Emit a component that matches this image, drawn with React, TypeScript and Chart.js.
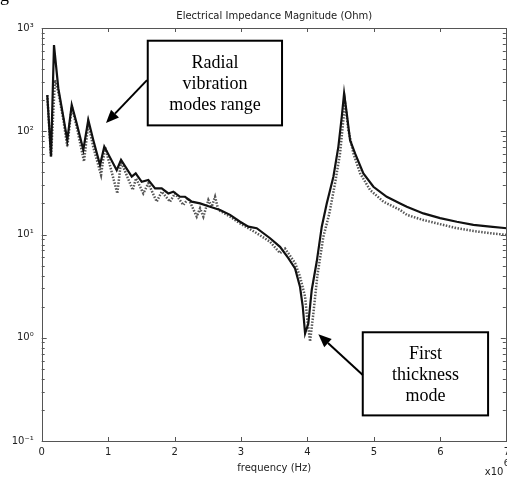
import React, { useEffect, useRef } from "react";
import { Chart, registerables } from "chart.js";

Chart.register(...registerables);

// ---- data (frequency in units of 10^6 Hz, impedance in Ohm) ----
const freqSolid = [0.084, 0.14, 0.185, 0.25, 0.325, 0.385, 0.452, 0.527, 0.626, 0.701, 0.777, 0.878, 0.942, 1.129, 1.194, 1.355, 1.415, 1.505, 1.605, 1.706, 1.806, 1.906, 1.981, 2.082, 2.157, 2.258, 2.383, 2.534, 2.684, 2.835, 2.985, 3.11, 3.236, 3.437, 3.587, 3.712, 3.813, 3.888, 3.929, 3.964, 4.013, 4.064, 4.14, 4.215, 4.29, 4.39, 4.465, 4.516, 4.551, 4.591, 4.641, 4.716, 4.841, 4.992, 5.193, 5.394, 5.495, 5.744, 5.996, 6.247, 6.497, 6.749, 7.0];
const zSolid = [224, 57, 684, 261, 138, 82, 180, 119, 66, 129, 82, 47, 71, 42, 52.7, 36.3, 39.1, 32.4, 33.7, 28, 28, 25, 26, 23.2, 23.2, 20.8, 20, 18.6, 17.3, 15.5, 13.3, 11.9, 11.5, 9.2, 7.6, 5.9, 4.7, 3.1, 2.0, 1.1, 1.38, 2.9, 5.5, 11.9, 20, 36.3, 71, 138, 233, 149, 82, 61, 39.1, 29, 23.2, 20, 18.6, 16, 14.4, 13.3, 12.4, 11.9, 11.5];

const freqDotted = [0.084, 0.14, 0.2, 0.25, 0.325, 0.385, 0.452, 0.527, 0.637, 0.701, 0.777, 0.893, 0.953, 1.138, 1.194, 1.37, 1.42, 1.529, 1.605, 1.731, 1.806, 1.931, 2.007, 2.132, 2.207, 2.333, 2.383, 2.433, 2.508, 2.559, 2.609, 2.658, 2.835, 2.985, 3.11, 3.236, 3.437, 3.587, 3.663, 3.813, 3.888, 3.964, 3.998, 4.039, 4.089, 4.149, 4.239, 4.329, 4.415, 4.49, 4.54, 4.566, 4.615, 4.691, 4.792, 4.942, 5.142, 5.394, 5.495, 5.744, 5.996, 6.247, 6.497, 6.749, 7.0];
const zDotted = [224, 57, 313, 240, 130, 71, 173, 110, 51, 119, 70, 37.7, 71, 25, 51, 27, 35, 25, 31.3, 20.8, 26, 20.8, 25, 19.3, 22.4, 14.9, 17.9, 14.9, 21.6, 18.6, 23.2, 17.3, 14.9, 12.8, 11.5, 10.3, 8.5, 6.6, 7.3, 5.3, 3.9, 2.5, 1.49, 0.92, 1.73, 4.0, 9.5, 16, 31.3, 61, 129, 187, 103, 61, 39.1, 27, 20.8, 17.3, 15.5, 13.8, 12.6, 11.5, 10.8, 10.3, 9.9];

const xMin = 0;
const xMax = 7;
const yDecades = [0.1, 1, 10, 100, 1000];
const yTickLabels = ["10\u207B\u00B9", "10\u2070", "10\u00B9", "10\u00B2", "10\u00B3"];
const chartTitle = "Electrical Impedance Magnitude (Ohm)";
const xTitle = "frequency (Hz)";
const xMultiplierBase = "x10";
const xMultiplierExp = "6";

// callouts anchored in data units (freq, ohm)
const callouts = [
  { lines: ["Radial", "vibration", "modes range"], box: [1.596, 753, 3.617, 114], from: [1.585, 313], to: [0.968, 120] },
  { lines: ["First", "thickness", "mode"], box: [4.832, 1.13, 6.718, 0.177], from: [4.832, 0.435], to: [4.164, 1.08] },
];

const SANS = '"DejaVu Sans", Verdana, sans-serif';
const SERIF = '"Liberation Serif", "Times New Roman", serif';
const AXIS_COLOR = "#555";
const TEXT_COLOR = "#222";

const framePlugin = {
  id: "frameTicks",
  afterDatasetsDraw(chart: any) {
    const { ctx, chartArea, scales } = chart;
    const x = scales.x;
    const y = scales.y;
    const { left, right, top, bottom } = chartArea;
    ctx.save();
    ctx.strokeStyle = AXIS_COLOR;
    ctx.lineWidth = 1;
    ctx.strokeRect(Math.round(left) + 0.5, Math.round(top) + 0.5, Math.round(right - left) - 1, Math.round(bottom - top));
    ctx.beginPath();
    for (let v = xMin; v <= xMax; v++) {
      const px = Math.round(x.getPixelForValue(v)) + 0.5;
      ctx.moveTo(px, bottom);
      ctx.lineTo(px, bottom - 4);
      ctx.moveTo(px, top);
      ctx.lineTo(px, top + 4);
    }
    for (let d = 0; d < yDecades.length; d++) {
      const base = yDecades[d];
      const maxK = d === yDecades.length - 1 ? 1 : 9;
      for (let k = 1; k <= maxK; k++) {
        const v = base * k;
        const py = Math.round(y.getPixelForValue(v)) + 0.5;
        const len = k === 1 ? 5 : 3;
        ctx.moveTo(left, py);
        ctx.lineTo(left + len, py);
        ctx.moveTo(right - 1, py);
        ctx.lineTo(right - 1 - len, py);
      }
    }
    ctx.stroke();
    ctx.restore();
  },
};

const calloutPlugin = {
  id: "callouts",
  afterDraw(chart: any) {
    const { ctx, scales } = chart;
    const x = scales.x;
    const y = scales.y;
    ctx.save();
    for (const c of callouts) {
      const x0 = x.getPixelForValue(c.box[0]);
      const y0 = y.getPixelForValue(c.box[1]);
      const x1 = x.getPixelForValue(c.box[2]);
      const y1 = y.getPixelForValue(c.box[3]);
      ctx.fillStyle = "#fff";
      ctx.fillRect(x0, y0, x1 - x0, y1 - y0);
      ctx.strokeStyle = "#000";
      ctx.lineWidth = 2;
      ctx.strokeRect(x0, y0, x1 - x0, y1 - y0);
      ctx.fillStyle = "#000";
      ctx.font = `18px ${SERIF}`;
      ctx.textAlign = "center";
      ctx.textBaseline = "middle";
      const cx = (x0 + x1) / 2;
      const cy = (y0 + y1) / 2;
      const lh = 21;
      c.lines.forEach((t, i) => {
        ctx.fillText(t, cx, cy + (i - (c.lines.length - 1) / 2) * lh + 1);
      });
      // arrow
      const fx = x.getPixelForValue(c.from[0]);
      const fy = y.getPixelForValue(c.from[1]);
      const tx = x.getPixelForValue(c.to[0]);
      const ty = y.getPixelForValue(c.to[1]);
      const ang = Math.atan2(ty - fy, tx - fx);
      const headLen = 13;
      const headW = 5.5;
      const bx = tx - headLen * Math.cos(ang);
      const by = ty - headLen * Math.sin(ang);
      ctx.beginPath();
      ctx.moveTo(fx, fy);
      ctx.lineTo(bx, by);
      ctx.lineWidth = 2;
      ctx.stroke();
      ctx.beginPath();
      ctx.moveTo(tx, ty);
      ctx.lineTo(bx + headW * Math.sin(ang), by - headW * Math.cos(ang));
      ctx.lineTo(bx - headW * Math.sin(ang), by + headW * Math.cos(ang));
      ctx.closePath();
      ctx.fill();
    }
    // axis multiplier
    const xr = x.getPixelForValue(xMax);
    ctx.fillStyle = TEXT_COLOR;
    ctx.textAlign = "left";
    ctx.textBaseline = "middle";
    ctx.font = `10px ${SANS}`;
    ctx.fillText(xMultiplierBase, xr - 22, 472.5);
    ctx.font = `9px ${SANS}`;
    ctx.fillText(xMultiplierExp, xr - 3, 463.5);
    // stray glyph from surrounding page
    ctx.fillStyle = "#000";
    ctx.font = `18px ${SERIF}`;
    ctx.textBaseline = "alphabetic";
    ctx.fillText("g", 0, 1);
    ctx.restore();
  },
};

export default function App() {
  const ref = useRef<HTMLCanvasElement | null>(null);

  useEffect(() => {
    if (!ref.current) return;
    const chart = new Chart(ref.current, {
      type: "line",
      data: {
        datasets: [
          {
            label: "solid",
            data: freqSolid.map((f, i) => ({ x: f, y: zSolid[i] })),
            borderColor: "#111",
            borderWidth: 2.2,
            pointRadius: 0,
            tension: 0,
            fill: false,
          },
          {
            label: "dotted",
            data: freqDotted.map((f, i) => ({ x: f, y: zDotted[i] })),
            borderColor: "#555",
            borderWidth: 2.5,
            borderDash: [1.5, 1.5],
            pointRadius: 0,
            tension: 0,
            fill: false,
          },
        ],
      },
      options: {
        animation: false,
        responsive: false,
        maintainAspectRatio: false,
        devicePixelRatio: 1,
        layout: { padding: 0 },
        plugins: {
          legend: { display: false },
          tooltip: { enabled: false },
          title: {
            display: true,
            fullSize: false,
            text: chartTitle,
            color: TEXT_COLOR,
            font: { family: SANS, size: 10, weight: "normal" },
            padding: { top: 10, bottom: 6 },
          },
        },
        scales: {
          x: {
            type: "linear",
            min: xMin,
            max: xMax,
            ticks: { stepSize: 1, color: TEXT_COLOR, font: { family: SANS, size: 10 }, padding: 2, maxRotation: 0 },
            grid: { display: false, drawTicks: true, tickLength: 3 },
            border: { display: false },
            title: {
              display: true,
              text: xTitle,
              color: TEXT_COLOR,
              font: { family: SANS, size: 10 },
              padding: { top: 0, bottom: 2.7 },
            },
            afterFit: (s: any) => {
              s.height = 36;
            },
          },
          y: {
            type: "logarithmic",
            min: 0.1,
            max: 1000,
            afterBuildTicks: (s: any) => {
              s.ticks = yDecades.map((v) => ({ value: v }));
            },
            ticks: {
              color: TEXT_COLOR,
              font: { family: SANS, size: 10 },
              padding: 0,
              autoSkip: false,
              callback: (v: any) => {
                const i = yDecades.findIndex((d) => Math.abs(d - Number(v)) < d * 1e-6);
                return i >= 0 ? yTickLabels[i] : "";
              },
            },
            grid: { display: false, drawTicks: true, tickLength: 8 },
            border: { display: false },
            afterFit: (s: any) => {
              s.width = 41.7;
            },
          },
        },
      },
      plugins: [framePlugin, calloutPlugin],
    });
    return () => chart.destroy();
  }, []);

  return (
    <div
      style={{
        position: "absolute",
        left: 0,
        top: 0,
        width: 507,
        height: 477,
        overflow: "hidden",
        background: "#fff",
      }}
    >
      <canvas ref={ref} width={512} height={477} style={{ display: "block", width: 512, height: 477 }} />
    </div>
  );
}
